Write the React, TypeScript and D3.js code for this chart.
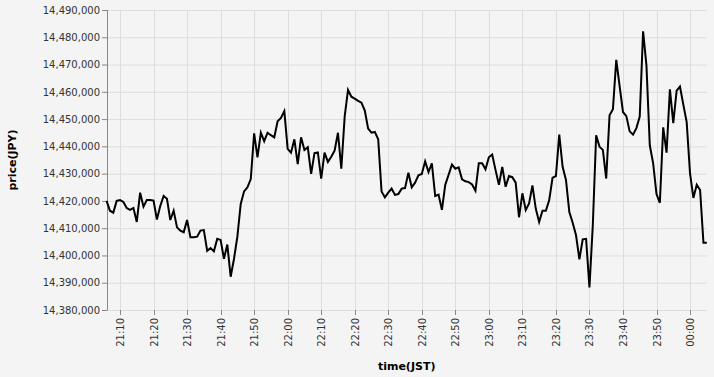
import React from "react";
import * as d3 from "d3";

const startTime = new Date(2024, 0, 1, 21, 6);
const prices: number[] = [
  14420000, 14416400, 14415700, 14420000, 14420300, 14419600, 14417400, 14416700, 14417400, 14412300,
  14423000, 14417900, 14420300, 14420300, 14420100, 14413200, 14418100, 14421800, 14420800, 14413000,
  14416400, 14410300, 14409100, 14408500, 14413000, 14406700, 14406700, 14406900, 14409100, 14409300,
  14401700, 14402700, 14401500, 14406100, 14405700, 14398800, 14404000, 14392200, 14398800, 14406900,
  14418900, 14423500, 14425000, 14428000, 14444800, 14436000, 14445000, 14441900, 14445000, 14444100,
  14443300, 14449200, 14450400, 14452900, 14439100, 14437700, 14442600, 14433500, 14443300, 14438700,
  14439700, 14429900, 14437500, 14437800, 14428200, 14437700, 14434300, 14436200, 14438400, 14445000,
  14431800, 14450900, 14460700, 14458200, 14457500, 14456700, 14456000, 14453100, 14446500, 14445000,
  14445300, 14442600, 14423500, 14421300, 14423000, 14424500, 14422200, 14422500, 14424500, 14424700,
  14430300, 14425000, 14426700, 14429400, 14429900, 14434500, 14430600, 14433800, 14421800, 14422300,
  14416700, 14425900, 14429600, 14433300, 14431800, 14432300, 14427900, 14427200, 14426900, 14426000,
  14423700, 14433800, 14433800, 14431600, 14436000, 14437000, 14431300, 14425900, 14432500, 14425200,
  14429100, 14428700, 14426700, 14414000, 14422800, 14416700, 14419100, 14425700, 14417100, 14412300,
  14416400, 14416400, 14420300, 14428500, 14429100, 14444300, 14432500, 14427700, 14415900, 14412000,
  14407400, 14398600, 14405900, 14406100, 14388300, 14411000, 14444100, 14439900, 14438700, 14428200,
  14451400, 14453600, 14471700, 14462100, 14452600, 14451100, 14445500, 14444300, 14446700, 14450900,
  14482200, 14469700, 14440400, 14433800, 14422500, 14419300, 14447000, 14437700, 14460900, 14448500,
  14460400, 14461900, 14455300, 14448900, 14430100, 14421100, 14425900, 14424000, 14404700, 14404700,
];
const yTicks: number[] = [
  14380000, 14390000, 14400000, 14410000, 14420000, 14430000, 14440000, 14450000, 14460000,
  14470000, 14480000, 14490000,
];

const W = 714;
const H = 377;
const left = 106.6;
const right = 706.8;
const top = 10;
const bottom = 310;
const font = "DejaVu Sans, sans-serif";

export default function App() {
  const data = prices.map((p, i) => ({ t: d3.timeMinute.offset(startTime, i), p }));
  const x = d3
    .scaleTime()
    .domain(d3.extent(data, (d) => d.t) as [Date, Date])
    .range([left, right]);
  const y = d3.scaleLinear().domain([14380000, 14490000]).range([bottom, top]);
  const xTicks = x.ticks(d3.timeMinute.every(10) as any);
  const fmtT = d3.timeFormat("%H:%M");
  const fmtY = d3.format(",");
  const line = d3
    .line<{ t: Date; p: number }>()
    .x((d) => x(d.t))
    .y((d) => y(d.p));

  return (
    <svg
      width={W}
      height={H}
      style={{ position: "absolute", left: 0, top: 0, display: "block" }}
      fontFamily={font}
    >
      <rect x={0} y={0} width={W} height={H} fill="#f4f4f4" />
      <g stroke="#dddddd" strokeWidth={1}>
        {yTicks.map((v) => (
          <line key={"gy" + v} x1={left} x2={right} y1={y(v) + 0.5} y2={y(v) + 0.5} />
        ))}
        {xTicks.map((t) => (
          <line key={"gx" + t.getTime()} x1={Math.round(x(t)) + 0.5} x2={Math.round(x(t)) + 0.5} y1={top} y2={bottom} />
        ))}
      </g>
      {/* y axis */}
      <line x1={107.5} x2={107.5} y1={top} y2={bottom + 0.5} stroke="#888" strokeWidth={1} />
      {yTicks.map((v) => (
        <g key={"ty" + v} transform={`translate(0,${y(v) + 0.5})`}>
          <line x1={102} x2={107} stroke="#888" />
          <text x={100} dy="0.32em" textAnchor="end" fontSize={10} fill="#333">
            {fmtY(v)}
          </text>
        </g>
      ))}
      {/* x axis */}
      {xTicks.map((t) => (
        <g key={"tx" + t.getTime()} transform={`translate(${Math.round(x(t)) + 0.5},${bottom})`}>
          <line y1={0} y2={5} stroke="#888" />
          <text
            transform="translate(0,8) rotate(-90)"
            textAnchor="end"
            dy="0.32em"
            fontSize={10}
            fill="#333"
          >
            {fmtT(t)}
          </text>
        </g>
      ))}
      <path d={line(data) || ""} fill="none" stroke="#000" strokeWidth={2} strokeLinejoin="miter" />
      <text x={(left + right) / 2} y={370} textAnchor="middle" fontSize={11} fontWeight="bold" fill="#000">
        time(JST)
      </text>
      <text
        transform={`translate(16,${(top + bottom) / 2}) rotate(-90)`}
        textAnchor="middle"
        fontSize={11}
        fontWeight="bold"
        fill="#000"
      >
        price(JPY)
      </text>
    </svg>
  );
}
